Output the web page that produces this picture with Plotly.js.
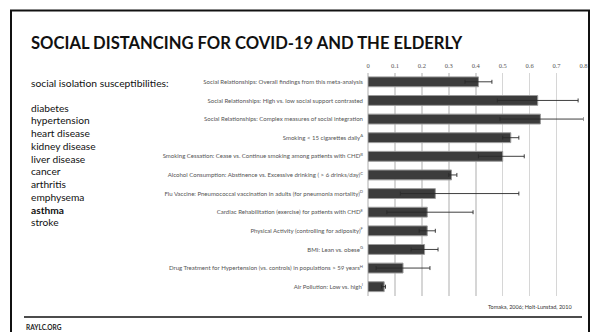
<!DOCTYPE html>
<html>
<head>
<meta charset="utf-8">
<script src="https://cdn.plot.ly/plotly-3.0.1.min.js"></script>
<style>
  html, body { margin: 0; padding: 0; background: #ffffff; }
  #chart { width: 598px; height: 332px; }
</style>
</head>
<body>
<div id="chart"></div>
<script>
// Comparison of effect sizes (lnOR) for decreased mortality across conditions
const categories = [
  "Social Relationships: Overall findings from this meta-analysis",
  "Social Relationships: High vs. low social support contrasted",
  "Social Relationships: Complex measures of social integration",
  "Smoking < 15 cigarettes daily<sup>A</sup>",
  "Smoking Cessation: Cease vs. Continue smoking among patients with CHD<sup>B</sup>",
  "Alcohol Consumption: Abstinence vs. Excessive drinking ( > 6 drinks/day)<sup>C</sup>",
  "Flu Vaccine: Pneumococcal vaccination in adults (for pneumonia mortality)<sup>D</sup>",
  "Cardiac Rehabilitation (exercise) for patients with CHD<sup>E</sup>",
  "Physical Activity (controlling for adiposity)<sup>F</sup>",
  "BMI: Lean vs. obese<sup>G</sup>",
  "Drug Treatment for Hypertension (vs. controls) in populations > 59 years<sup>H</sup>",
  "Air Pollution: Low vs. high<sup>I</sup>"
];
const effect   = [0.41, 0.63, 0.64, 0.53, 0.50, 0.31, 0.25, 0.22, 0.22, 0.21, 0.13, 0.06];
const ciLower  = [0.36, 0.48, 0.49, 0.50, 0.41, 0.30, 0.12, 0.07, 0.19, 0.16, 0.03, 0.05];
const ciUpper  = [0.46, 0.78, 0.80, 0.56, 0.58, 0.33, 0.56, 0.39, 0.25, 0.26, 0.23, 0.065];
const xTicks   = [0, 0.1, 0.2, 0.3, 0.4, 0.5, 0.6, 0.7, 0.8];

const susceptibilities = ["diabetes", "hypertension", "heart disease", "kidney disease",
  "liver disease", "cancer", "arthritis", "emphysema", "asthma", "stroke"];
const highlighted = "asthma";

const W = 598, H = 332;
const px = v => v / W;            // pixel -> paper x
const py = v => 1 - v / H;        // pixel -> paper y

const ids = categories.map((_, i) => "c" + i);

const trace = {
  type: "bar",
  orientation: "h",
  x: effect,
  y: ids,
  marker: { color: "#3c3c3c", line: { color: "#9a9a9a", width: 1 } },
  error_x: {
    type: "data",
    symmetric: false,
    array: ciUpper.map((u, i) => u - effect[i]),
    arrayminus: effect.map((e, i) => e - ciLower[i]),
    color: "#2a2a2a",
    thickness: 0.9,
    width: 2
  },
  hoverinfo: "none"
};

const listAnnotations = susceptibilities.map((s, i) => ({
  xref: "paper", yref: "paper",
  x: px(28.5), y: py(107.7 + i * 12.73),
  xanchor: "left", yanchor: "middle",
  text: s === highlighted ? "<b>" + s + "</b>" : s,
  showarrow: false,
  font: { family: "Lato, sans-serif", size: 10.2, color: "#111111" }
}));

const layout = {
  width: W, height: H,
  margin: { l: 0, r: 0, t: 0, b: 0 },
  paper_bgcolor: "#ffffff",
  plot_bgcolor: "rgba(0,0,0,0)",
  showlegend: false,
  bargap: 0.47,
  xaxis: {
    domain: [px(368), px(583.5)],
    range: [0, 0.8],
    side: "top",
    tickvals: xTicks,
    ticktext: xTicks.map(String),
    showgrid: true,
    gridcolor: "#d6d6d6",
    gridwidth: 1.5,
    zeroline: true,
    zerolinecolor: "#d6d6d6",
    zerolinewidth: 1.5,
    showline: false,
    ticks: "",
    ticklabelstandoff: 2,
    tickfont: { family: "Liberation Serif, serif", size: 6.5, color: "#555555" },
    fixedrange: true
  },
  yaxis: {
    domain: [1 - 296 / H, 1 - 72.5 / H],
    type: "category",
    autorange: "reversed",
    tickvals: ids,
    ticktext: categories,
    showgrid: false,
    zeroline: false,
    showline: false,
    ticks: "",
    ticklabelstandoff: 4,
    tickfont: { family: "Lato, sans-serif", size: 6.05, color: "#555555" },
    fixedrange: true
  },
  shapes: [
    // slide frame
    { type: "rect", xref: "paper", yref: "paper",
      x0: px(11), x1: px(589), y0: py(345), y1: py(10.5),
      line: { color: "#111111", width: 2 }, fillcolor: "rgba(0,0,0,0)" },
    // footer rule
    { type: "line", xref: "paper", yref: "paper",
      x0: px(24), x1: px(582), y0: py(317), y1: py(317),
      line: { color: "#111111", width: 1.5 } }
  ],
  annotations: [
    { xref: "paper", yref: "paper", x: px(28.5), y: py(42.5),
      xanchor: "left", yanchor: "middle", showarrow: false,
      text: "<b>SOCIAL DISTANCING FOR COVID-19 AND THE ELDERLY</b>",
      font: { family: "Lato, sans-serif", size: 16.6, color: "#111111" } },
    { xref: "paper", yref: "paper", x: px(28.5), y: py(82.7),
      xanchor: "left", yanchor: "middle", showarrow: false,
      text: "social isolation susceptibilities:",
      font: { family: "Lato, sans-serif", size: 10.3, color: "#111111" } },
    { xref: "paper", yref: "paper", x: px(574), y: py(307),
      xanchor: "right", yanchor: "middle", showarrow: false,
      text: "Tomaka, 2006; Holt-Lunstad, 2010",
      font: { family: "Lato, sans-serif", size: 5.5, color: "#333333" } },
    { xref: "paper", yref: "paper", x: px(23.5), y: py(327.5),
      xanchor: "left", yanchor: "middle", showarrow: false,
      text: "<b>RAYLC.ORG</b>",
      font: { family: "Lato, sans-serif", size: 6.5, color: "#222222" } }
  ].concat(listAnnotations)
};

Plotly.newPlot("chart", [trace], layout, { displayModeBar: false, staticPlot: true });
</script>
</body>
</html>
